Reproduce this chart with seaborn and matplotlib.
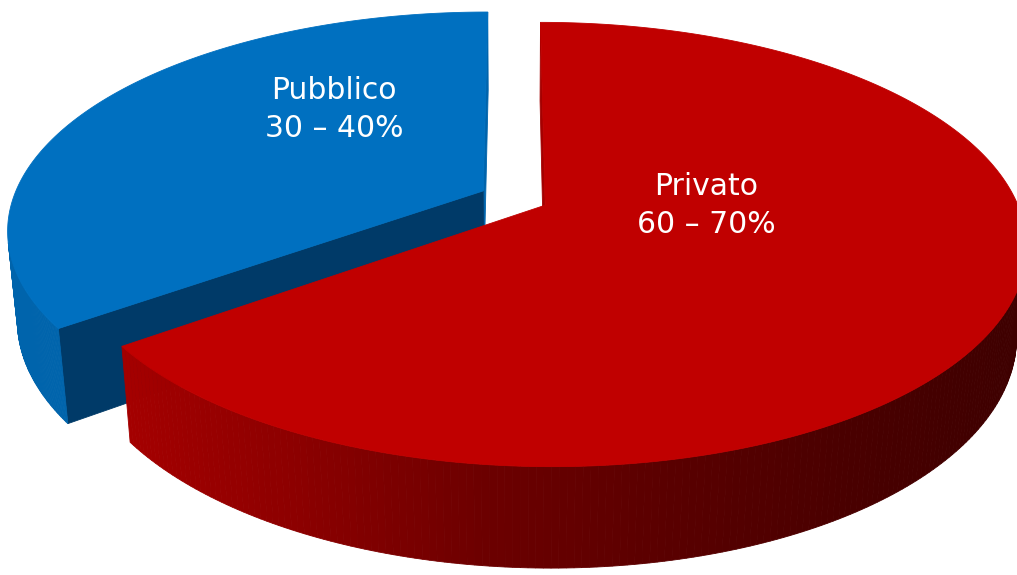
import numpy as np
import matplotlib
matplotlib.use("Agg")
import matplotlib.pyplot as plt
from matplotlib.patches import Polygon
import seaborn as sns

# data
labels = ["Pubblico", "Privato"]
ranges = ["30 – 40%", "60 – 70%"]
shares = [35, 65]

# colours per slice
top_colors = ["#0070C0", "#C00000"]
radial_colors = ["#003A68", "#4A0000"]
wall_stops = [["#0064AC", "#005EA2"],
              ["#A40000", "#8A0000", "#6C0000", "#5A0000", "#4A0000", "#3E0000"]]

# label placement on each slice top (angle in deg, radius)
label_ang = [130, 0]
label_rad = [0.54, 0.34]

# view parameters
ELEV = np.radians(26.9)
DIST = 5.07
FOCAL = 2383.0
THICK = 0.215
EXPLODE = 0.074
W, H = 1017, 575
CX, CY = 514, 198
CAM = np.array([0.0, -DIST * np.cos(ELEV), DIST * np.sin(ELEV)])


def project(x, y, z):
    depth = DIST + y * np.cos(ELEV) - z * np.sin(ELEV)
    sx = FOCAL * x / depth
    sy = FOCAL * (y * np.sin(ELEV) + z * np.cos(ELEV)) / depth
    return sx, sy, depth


def visible(p, n):
    return np.dot(CAM - p, n) > 0


sns.set_theme(style="white")
fig = plt.figure(figsize=(W / 100, H / 100), dpi=100)
ax = fig.add_axes([0, 0, 1, 1])
ax.set_xlim(-CX, W - CX)
ax.set_ylim(CY - H, CY)
ax.axis("off")

# slice angle ranges, counter-clockwise from 12 o'clock
edges = 90 + 3.6 * np.concatenate([[0], np.cumsum(shares)])
slices = []
for i in range(len(shares)):
    a0, a1 = edges[i], edges[i + 1]
    mid = np.radians((a0 + a1) / 2)
    ox, oy = EXPLODE * np.cos(mid), EXPLODE * np.sin(mid)
    slices.append((i, a0, a1, ox, oy))

# farthest slice first
slices.sort(key=lambda s: -s[4])

for i, a0, a1, ox, oy in slices:
    t = np.radians(np.linspace(a0, a1, 300))
    rx, ry = ox + np.cos(t), oy + np.sin(t)
    pal = sns.blend_palette(wall_stops[i], 256)
    faces = []

    # outer curved wall
    for k in range(len(t) - 1):
        tm = (t[k] + t[k + 1]) / 2
        pm = np.array([ox + np.cos(tm), oy + np.sin(tm), 0.0])
        if not visible(pm, np.array([np.cos(tm), np.sin(tm), 0.0])):
            continue
        xs = [rx[k], rx[k + 1], rx[k + 1], rx[k]]
        ys = [ry[k], ry[k + 1], ry[k + 1], ry[k]]
        zs = [0, 0, -THICK, -THICK]
        sx, sy, d = project(np.array(xs), np.array(ys), np.array(zs))
        frac = np.clip((sx.mean() + CX - 130) / (W - 130), 0, 1)
        faces.append((d.mean(), np.column_stack([sx, sy]), pal[int(frac * 255)]))

    # radial faces
    for ang, sign in [(a0, 1), (a1, -1)]:
        r = np.radians(ang)
        n = np.array([sign * np.sin(r), -sign * np.cos(r), 0.0])
        pm = np.array([ox + 0.5 * np.cos(r), oy + 0.5 * np.sin(r), 0.0])
        if not visible(pm, n):
            continue
        xs = np.array([ox, ox + np.cos(r), ox + np.cos(r), ox])
        ys = np.array([oy, oy + np.sin(r), oy + np.sin(r), oy])
        zs = np.array([0, 0, -THICK, -THICK])
        sx, sy, d = project(xs, ys, zs)
        col = radial_colors[i] if abs(ang - 90) % 360 > 1 else wall_stops[i][0]
        faces.append((d.mean(), np.column_stack([sx, sy]), col))

    faces.sort(key=lambda f: -f[0])
    for _, pts, col in faces:
        ax.add_patch(Polygon(pts, closed=True, facecolor=col, edgecolor=col, lw=0.6))

    # top face
    tx = np.concatenate([[ox], rx])
    ty = np.concatenate([[oy], ry])
    sx, sy, _ = project(tx, ty, np.zeros_like(tx))
    ax.add_patch(Polygon(np.column_stack([sx, sy]), closed=True,
                         facecolor=top_colors[i], edgecolor=top_colors[i], lw=0.6))

    # label
    la = np.radians(label_ang[i])
    lx, ly, _ = project(ox + label_rad[i] * np.cos(la), oy + label_rad[i] * np.sin(la), 0.0)
    ax.text(lx, ly, f"{labels[i]}\n{ranges[i]}", ha="center", va="center",
            color="white", fontsize=21.5, family="DejaVu Sans", linespacing=1.4)

fig.savefig("out.png", dpi=100, facecolor="white")
